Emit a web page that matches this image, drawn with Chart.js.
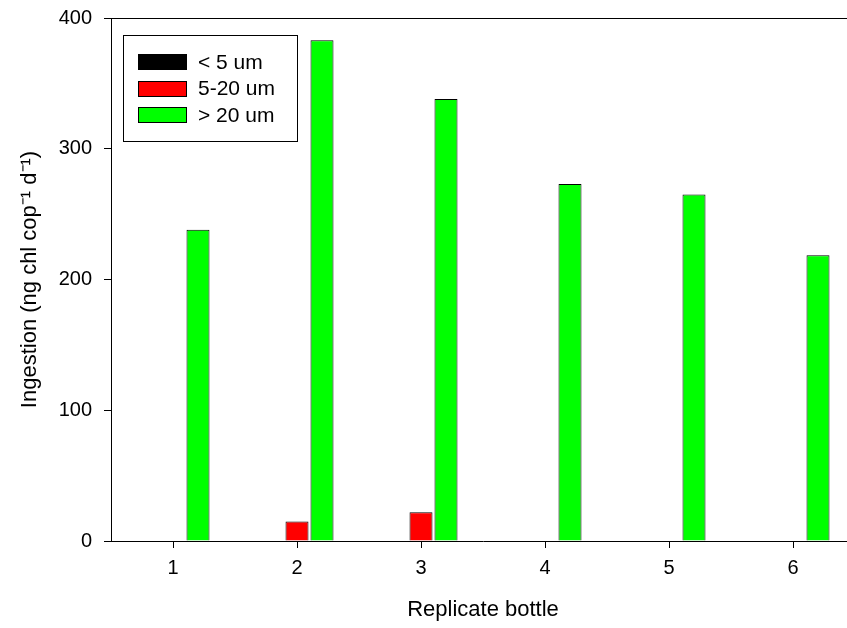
<!DOCTYPE html>
<html>
<head>
<meta charset="utf-8">
<script src="https://cdn.jsdelivr.net/npm/chart.js@4.4.1/dist/chart.umd.min.js"></script>
<style>
  html, body { margin: 0; padding: 0; background: #fff; overflow: hidden; }
  #wrap { width: 870px; height: 628px; }
</style>
</head>
<body>
<div id="wrap"><canvas id="chart" width="870" height="628"></canvas></div>
<script>
// data
const bottles = ['1', '2', '3', '4', '5', '6'];
const under5 = [0, 0, 0, 0, 0, 0];
const from5to20 = [0, 15, 22, 0, 0, 0];
const over20 = [238, 383, 338, 273, 265, 218.5];
const seriesNames = ['< 5 um', '5-20 um', '> 20 um'];
const seriesColors = ['#000000', '#ff0000', '#00ff00'];
const yTicks = [0, 100, 200, 300, 400];

const FONT = 'Liberation Sans, Arial, sans-serif';
Chart.defaults.font.family = FONT;
Chart.defaults.font.size = 20;
Chart.defaults.color = '#000';

// top frame line + boxed legend inside the plot
const framePlugin = {
    id: 'frame',
    afterDraw(chart) {
        const ctx = chart.ctx;
        const a = chart.chartArea;
        ctx.save();
        ctx.strokeStyle = '#000';
        ctx.lineWidth = 1;
        ctx.beginPath();
        ctx.moveTo(a.left, Math.round(a.top) + 0.5);
        ctx.lineTo(a.right, Math.round(a.top) + 0.5);
        ctx.stroke();

        ctx.fillStyle = '#fff';
        ctx.fillRect(123.5, 35.5, 174, 106);
        ctx.strokeRect(123.5, 35.5, 174, 106);

        ctx.font = '21px ' + FONT;
        ctx.textBaseline = 'middle';
        chart.data.datasets.forEach((ds, i) => {
            const y = 62 + i * 26.5;
            ctx.fillStyle = ds.backgroundColor;
            ctx.fillRect(138, Math.round(y - 8), 49, 16);
            ctx.strokeStyle = '#000';
            ctx.strokeRect(138.5, Math.round(y - 8) + 0.5, 48, 15);
            ctx.fillStyle = '#000';
            ctx.fillText(ds.label, 198, y + 1);
        });
        ctx.restore();
    }
};

const ctx = document.getElementById('chart').getContext('2d');
const myChart = new Chart(ctx, {
    type: 'bar',
    data: {
        labels: bottles,
        datasets: [under5, from5to20, over20].map((vals, i) => ({
            label: seriesNames[i],
            data: vals,
            backgroundColor: seriesColors[i],
            borderColor: '#000',
            borderWidth: 1,
            categoryPercentage: 75 / 124,
            barPercentage: 0.92
        }))
    },
    options: {
        responsive: false,
        animation: false,
        layout: { padding: { top: 18, right: 15, left: 0, bottom: 0 } },
        plugins: {
            legend: { display: false },
            tooltip: { enabled: false }
        },
        scales: {
            x: {
                type: 'category',
                offset: true,
                grid: { offset: false, drawOnChartArea: false, drawTicks: true, tickLength: 7, color: '#000' },
                border: { display: true, color: '#000', width: 1 },
                ticks: { padding: 8, color: '#000', maxRotation: 0 },
                title: { display: true, text: 'Replicate bottle', font: { size: 22 }, padding: { top: 0, bottom: 5 } },
                afterFit: s => { s.height = 87; }
            },
            y: {
                min: 0,
                max: 400,
                afterBuildTicks: s => { s.ticks = yTicks.map(v => ({ value: v })); },
                grid: { drawOnChartArea: false, drawTicks: true, tickLength: 7, color: '#000' },
                border: { display: true, color: '#000', width: 1 },
                ticks: { padding: 12, color: '#000' },
                title: { display: true, text: 'Ingestion (ng chl cop⁻¹ d⁻¹)', font: { size: 22 }, padding: { top: 17, bottom: 0 } },
                afterFit: s => { s.width = 111; s.paddingTop = 0; s.paddingBottom = 0; }
            }
        }
    },
    plugins: [framePlugin]
});
</script>
</body>
</html>
